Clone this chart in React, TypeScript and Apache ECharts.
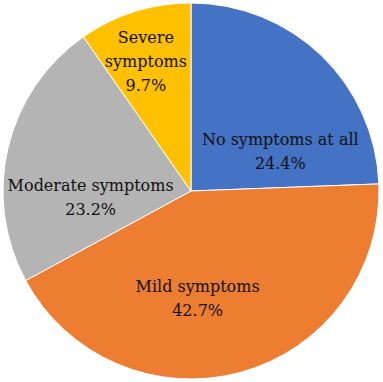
import React, { useEffect, useRef } from "react";
import * as echarts from "echarts";

const categories = ["No symptoms at all", "Mild symptoms", "Moderate symptoms", "Severe symptoms"];
const values = [24.4, 42.7, 23.2, 9.7];
const labelNames = ["No symptoms at all", "Mild symptoms", "Moderate symptoms", "Severe\nsymptoms"];
const colors = ["#4472C4", "#ED7D31", "#B4B4B4", "#FFC000"];
const labelShift: [number, number][] = [[22, 30], [-19, 14], [-6, 29], [-16, -37]];

export default function App() {
  const ref = useRef<HTMLDivElement>(null);
  useEffect(() => {
    document.body.style.margin = "0";
    const chart = echarts.init(ref.current!, undefined, { renderer: "svg" });
    chart.setOption({
      animation: false,
      backgroundColor: "#fff",
      textStyle: { fontFamily: "DejaVu Serif" },
      series: [
        {
          type: "pie",
          center: [191, 191],
          radius: [0, 188],
          startAngle: 90,
          clockwise: true,
          avoidLabelOverlap: false,
          itemStyle: { borderColor: "#fff", borderWidth: 1 },
          label: {
            show: true,
            position: "inside",
            fontFamily: "DejaVu Serif",
            fontSize: 16,
            lineHeight: 24,
            color: "#111",
            align: "center",
            formatter: (p: any) => `${labelNames[p.dataIndex]}\n${values[p.dataIndex].toFixed(1)}%`,
          },
          labelLayout: (p: any) => ({ dx: labelShift[p.dataIndex][0], dy: labelShift[p.dataIndex][1] }),
          labelLine: { show: false },
          emphasis: { disabled: true },
          data: categories.map((c, i) => ({ name: c, value: values[i], itemStyle: { color: colors[i] } })),
        },
      ],
    });
    return () => chart.dispose();
  }, []);
  return <div ref={ref} style={{ width: 383, height: 382 }} />;
}
